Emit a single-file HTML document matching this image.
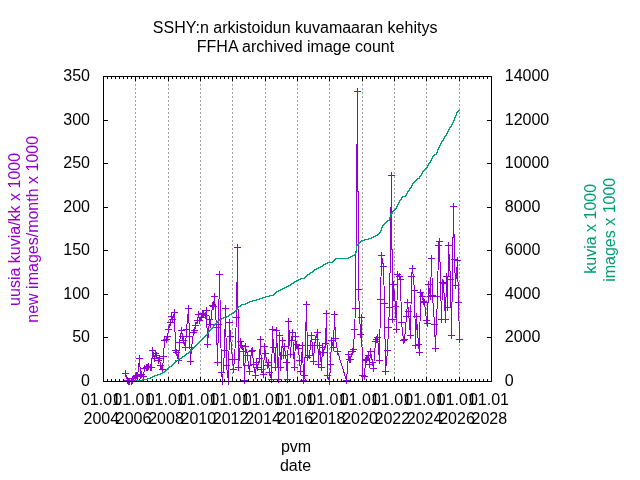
<!DOCTYPE html>
<html><head><meta charset="utf-8"><title>SSHY:n arkistoidun kuvamaaran kehitys</title>
<style>html,body{margin:0;padding:0;background:#fff}svg{display:block}text{font-family:"Liberation Sans",Arial,sans-serif;font-size:16px;fill:#000}</style></head><body>
<svg width="640" height="480" viewBox="0 0 640 480">
<rect width="640" height="480" fill="#fff"/>
<g stroke="#a0a0a0" stroke-width="1" stroke-dasharray="2,2" shape-rendering="crispEdges">
<line x1="135.5" y1="76.0" x2="135.5" y2="381.5"/>
<line x1="168.5" y1="76.0" x2="168.5" y2="381.5"/>
<line x1="200.5" y1="76.0" x2="200.5" y2="381.5"/>
<line x1="232.5" y1="76.0" x2="232.5" y2="381.5"/>
<line x1="265.5" y1="76.0" x2="265.5" y2="381.5"/>
<line x1="297.5" y1="76.0" x2="297.5" y2="381.5"/>
<line x1="329.5" y1="76.0" x2="329.5" y2="381.5"/>
<line x1="362.5" y1="76.0" x2="362.5" y2="381.5"/>
<line x1="394.5" y1="76.0" x2="394.5" y2="381.5"/>
<line x1="426.5" y1="76.0" x2="426.5" y2="381.5"/>
<line x1="459.5" y1="76.0" x2="459.5" y2="381.5"/>
</g>
<g stroke="#000" stroke-width="1" shape-rendering="crispEdges">
<line x1="103.5" y1="382.0" x2="103.5" y2="377.0"/><line x1="103.5" y1="76.0" x2="103.5" y2="81.0"/>
<line x1="107.5" y1="382.0" x2="107.5" y2="379.0"/><line x1="107.5" y1="76.0" x2="107.5" y2="79.0"/>
<line x1="111.5" y1="382.0" x2="111.5" y2="379.0"/><line x1="111.5" y1="76.0" x2="111.5" y2="79.0"/>
<line x1="115.5" y1="382.0" x2="115.5" y2="379.0"/><line x1="115.5" y1="76.0" x2="115.5" y2="79.0"/>
<line x1="119.5" y1="382.0" x2="119.5" y2="379.0"/><line x1="119.5" y1="76.0" x2="119.5" y2="79.0"/>
<line x1="123.5" y1="382.0" x2="123.5" y2="379.0"/><line x1="123.5" y1="76.0" x2="123.5" y2="79.0"/>
<line x1="127.5" y1="382.0" x2="127.5" y2="379.0"/><line x1="127.5" y1="76.0" x2="127.5" y2="79.0"/>
<line x1="131.5" y1="382.0" x2="131.5" y2="379.0"/><line x1="131.5" y1="76.0" x2="131.5" y2="79.0"/>
<line x1="135.5" y1="382.0" x2="135.5" y2="377.0"/><line x1="135.5" y1="76.0" x2="135.5" y2="81.0"/>
<line x1="139.5" y1="382.0" x2="139.5" y2="379.0"/><line x1="139.5" y1="76.0" x2="139.5" y2="79.0"/>
<line x1="143.5" y1="382.0" x2="143.5" y2="379.0"/><line x1="143.5" y1="76.0" x2="143.5" y2="79.0"/>
<line x1="147.5" y1="382.0" x2="147.5" y2="379.0"/><line x1="147.5" y1="76.0" x2="147.5" y2="79.0"/>
<line x1="152.5" y1="382.0" x2="152.5" y2="379.0"/><line x1="152.5" y1="76.0" x2="152.5" y2="79.0"/>
<line x1="156.5" y1="382.0" x2="156.5" y2="379.0"/><line x1="156.5" y1="76.0" x2="156.5" y2="79.0"/>
<line x1="160.5" y1="382.0" x2="160.5" y2="379.0"/><line x1="160.5" y1="76.0" x2="160.5" y2="79.0"/>
<line x1="164.5" y1="382.0" x2="164.5" y2="379.0"/><line x1="164.5" y1="76.0" x2="164.5" y2="79.0"/>
<line x1="168.5" y1="382.0" x2="168.5" y2="377.0"/><line x1="168.5" y1="76.0" x2="168.5" y2="81.0"/>
<line x1="172.5" y1="382.0" x2="172.5" y2="379.0"/><line x1="172.5" y1="76.0" x2="172.5" y2="79.0"/>
<line x1="176.5" y1="382.0" x2="176.5" y2="379.0"/><line x1="176.5" y1="76.0" x2="176.5" y2="79.0"/>
<line x1="180.5" y1="382.0" x2="180.5" y2="379.0"/><line x1="180.5" y1="76.0" x2="180.5" y2="79.0"/>
<line x1="184.5" y1="382.0" x2="184.5" y2="379.0"/><line x1="184.5" y1="76.0" x2="184.5" y2="79.0"/>
<line x1="188.5" y1="382.0" x2="188.5" y2="379.0"/><line x1="188.5" y1="76.0" x2="188.5" y2="79.0"/>
<line x1="192.5" y1="382.0" x2="192.5" y2="379.0"/><line x1="192.5" y1="76.0" x2="192.5" y2="79.0"/>
<line x1="196.5" y1="382.0" x2="196.5" y2="379.0"/><line x1="196.5" y1="76.0" x2="196.5" y2="79.0"/>
<line x1="200.5" y1="382.0" x2="200.5" y2="377.0"/><line x1="200.5" y1="76.0" x2="200.5" y2="81.0"/>
<line x1="204.5" y1="382.0" x2="204.5" y2="379.0"/><line x1="204.5" y1="76.0" x2="204.5" y2="79.0"/>
<line x1="208.5" y1="382.0" x2="208.5" y2="379.0"/><line x1="208.5" y1="76.0" x2="208.5" y2="79.0"/>
<line x1="212.5" y1="382.0" x2="212.5" y2="379.0"/><line x1="212.5" y1="76.0" x2="212.5" y2="79.0"/>
<line x1="216.5" y1="382.0" x2="216.5" y2="379.0"/><line x1="216.5" y1="76.0" x2="216.5" y2="79.0"/>
<line x1="220.5" y1="382.0" x2="220.5" y2="379.0"/><line x1="220.5" y1="76.0" x2="220.5" y2="79.0"/>
<line x1="224.5" y1="382.0" x2="224.5" y2="379.0"/><line x1="224.5" y1="76.0" x2="224.5" y2="79.0"/>
<line x1="228.5" y1="382.0" x2="228.5" y2="379.0"/><line x1="228.5" y1="76.0" x2="228.5" y2="79.0"/>
<line x1="232.5" y1="382.0" x2="232.5" y2="377.0"/><line x1="232.5" y1="76.0" x2="232.5" y2="81.0"/>
<line x1="236.5" y1="382.0" x2="236.5" y2="379.0"/><line x1="236.5" y1="76.0" x2="236.5" y2="79.0"/>
<line x1="240.5" y1="382.0" x2="240.5" y2="379.0"/><line x1="240.5" y1="76.0" x2="240.5" y2="79.0"/>
<line x1="244.5" y1="382.0" x2="244.5" y2="379.0"/><line x1="244.5" y1="76.0" x2="244.5" y2="79.0"/>
<line x1="248.5" y1="382.0" x2="248.5" y2="379.0"/><line x1="248.5" y1="76.0" x2="248.5" y2="79.0"/>
<line x1="253.5" y1="382.0" x2="253.5" y2="379.0"/><line x1="253.5" y1="76.0" x2="253.5" y2="79.0"/>
<line x1="257.5" y1="382.0" x2="257.5" y2="379.0"/><line x1="257.5" y1="76.0" x2="257.5" y2="79.0"/>
<line x1="261.5" y1="382.0" x2="261.5" y2="379.0"/><line x1="261.5" y1="76.0" x2="261.5" y2="79.0"/>
<line x1="265.5" y1="382.0" x2="265.5" y2="377.0"/><line x1="265.5" y1="76.0" x2="265.5" y2="81.0"/>
<line x1="269.5" y1="382.0" x2="269.5" y2="379.0"/><line x1="269.5" y1="76.0" x2="269.5" y2="79.0"/>
<line x1="273.5" y1="382.0" x2="273.5" y2="379.0"/><line x1="273.5" y1="76.0" x2="273.5" y2="79.0"/>
<line x1="277.5" y1="382.0" x2="277.5" y2="379.0"/><line x1="277.5" y1="76.0" x2="277.5" y2="79.0"/>
<line x1="281.5" y1="382.0" x2="281.5" y2="379.0"/><line x1="281.5" y1="76.0" x2="281.5" y2="79.0"/>
<line x1="285.5" y1="382.0" x2="285.5" y2="379.0"/><line x1="285.5" y1="76.0" x2="285.5" y2="79.0"/>
<line x1="289.5" y1="382.0" x2="289.5" y2="379.0"/><line x1="289.5" y1="76.0" x2="289.5" y2="79.0"/>
<line x1="293.5" y1="382.0" x2="293.5" y2="379.0"/><line x1="293.5" y1="76.0" x2="293.5" y2="79.0"/>
<line x1="297.5" y1="382.0" x2="297.5" y2="377.0"/><line x1="297.5" y1="76.0" x2="297.5" y2="81.0"/>
<line x1="301.5" y1="382.0" x2="301.5" y2="379.0"/><line x1="301.5" y1="76.0" x2="301.5" y2="79.0"/>
<line x1="305.5" y1="382.0" x2="305.5" y2="379.0"/><line x1="305.5" y1="76.0" x2="305.5" y2="79.0"/>
<line x1="309.5" y1="382.0" x2="309.5" y2="379.0"/><line x1="309.5" y1="76.0" x2="309.5" y2="79.0"/>
<line x1="313.5" y1="382.0" x2="313.5" y2="379.0"/><line x1="313.5" y1="76.0" x2="313.5" y2="79.0"/>
<line x1="317.5" y1="382.0" x2="317.5" y2="379.0"/><line x1="317.5" y1="76.0" x2="317.5" y2="79.0"/>
<line x1="321.5" y1="382.0" x2="321.5" y2="379.0"/><line x1="321.5" y1="76.0" x2="321.5" y2="79.0"/>
<line x1="325.5" y1="382.0" x2="325.5" y2="379.0"/><line x1="325.5" y1="76.0" x2="325.5" y2="79.0"/>
<line x1="329.5" y1="382.0" x2="329.5" y2="377.0"/><line x1="329.5" y1="76.0" x2="329.5" y2="81.0"/>
<line x1="333.5" y1="382.0" x2="333.5" y2="379.0"/><line x1="333.5" y1="76.0" x2="333.5" y2="79.0"/>
<line x1="337.5" y1="382.0" x2="337.5" y2="379.0"/><line x1="337.5" y1="76.0" x2="337.5" y2="79.0"/>
<line x1="341.5" y1="382.0" x2="341.5" y2="379.0"/><line x1="341.5" y1="76.0" x2="341.5" y2="79.0"/>
<line x1="346.5" y1="382.0" x2="346.5" y2="379.0"/><line x1="346.5" y1="76.0" x2="346.5" y2="79.0"/>
<line x1="350.5" y1="382.0" x2="350.5" y2="379.0"/><line x1="350.5" y1="76.0" x2="350.5" y2="79.0"/>
<line x1="354.5" y1="382.0" x2="354.5" y2="379.0"/><line x1="354.5" y1="76.0" x2="354.5" y2="79.0"/>
<line x1="358.5" y1="382.0" x2="358.5" y2="379.0"/><line x1="358.5" y1="76.0" x2="358.5" y2="79.0"/>
<line x1="362.5" y1="382.0" x2="362.5" y2="377.0"/><line x1="362.5" y1="76.0" x2="362.5" y2="81.0"/>
<line x1="366.5" y1="382.0" x2="366.5" y2="379.0"/><line x1="366.5" y1="76.0" x2="366.5" y2="79.0"/>
<line x1="370.5" y1="382.0" x2="370.5" y2="379.0"/><line x1="370.5" y1="76.0" x2="370.5" y2="79.0"/>
<line x1="374.5" y1="382.0" x2="374.5" y2="379.0"/><line x1="374.5" y1="76.0" x2="374.5" y2="79.0"/>
<line x1="378.5" y1="382.0" x2="378.5" y2="379.0"/><line x1="378.5" y1="76.0" x2="378.5" y2="79.0"/>
<line x1="382.5" y1="382.0" x2="382.5" y2="379.0"/><line x1="382.5" y1="76.0" x2="382.5" y2="79.0"/>
<line x1="386.5" y1="382.0" x2="386.5" y2="379.0"/><line x1="386.5" y1="76.0" x2="386.5" y2="79.0"/>
<line x1="390.5" y1="382.0" x2="390.5" y2="379.0"/><line x1="390.5" y1="76.0" x2="390.5" y2="79.0"/>
<line x1="394.5" y1="382.0" x2="394.5" y2="377.0"/><line x1="394.5" y1="76.0" x2="394.5" y2="81.0"/>
<line x1="398.5" y1="382.0" x2="398.5" y2="379.0"/><line x1="398.5" y1="76.0" x2="398.5" y2="79.0"/>
<line x1="402.5" y1="382.0" x2="402.5" y2="379.0"/><line x1="402.5" y1="76.0" x2="402.5" y2="79.0"/>
<line x1="406.5" y1="382.0" x2="406.5" y2="379.0"/><line x1="406.5" y1="76.0" x2="406.5" y2="79.0"/>
<line x1="410.5" y1="382.0" x2="410.5" y2="379.0"/><line x1="410.5" y1="76.0" x2="410.5" y2="79.0"/>
<line x1="414.5" y1="382.0" x2="414.5" y2="379.0"/><line x1="414.5" y1="76.0" x2="414.5" y2="79.0"/>
<line x1="418.5" y1="382.0" x2="418.5" y2="379.0"/><line x1="418.5" y1="76.0" x2="418.5" y2="79.0"/>
<line x1="422.5" y1="382.0" x2="422.5" y2="379.0"/><line x1="422.5" y1="76.0" x2="422.5" y2="79.0"/>
<line x1="426.5" y1="382.0" x2="426.5" y2="377.0"/><line x1="426.5" y1="76.0" x2="426.5" y2="81.0"/>
<line x1="430.5" y1="382.0" x2="430.5" y2="379.0"/><line x1="430.5" y1="76.0" x2="430.5" y2="79.0"/>
<line x1="434.5" y1="382.0" x2="434.5" y2="379.0"/><line x1="434.5" y1="76.0" x2="434.5" y2="79.0"/>
<line x1="438.5" y1="382.0" x2="438.5" y2="379.0"/><line x1="438.5" y1="76.0" x2="438.5" y2="79.0"/>
<line x1="442.5" y1="382.0" x2="442.5" y2="379.0"/><line x1="442.5" y1="76.0" x2="442.5" y2="79.0"/>
<line x1="447.5" y1="382.0" x2="447.5" y2="379.0"/><line x1="447.5" y1="76.0" x2="447.5" y2="79.0"/>
<line x1="451.5" y1="382.0" x2="451.5" y2="379.0"/><line x1="451.5" y1="76.0" x2="451.5" y2="79.0"/>
<line x1="455.5" y1="382.0" x2="455.5" y2="379.0"/><line x1="455.5" y1="76.0" x2="455.5" y2="79.0"/>
<line x1="459.5" y1="382.0" x2="459.5" y2="377.0"/><line x1="459.5" y1="76.0" x2="459.5" y2="81.0"/>
<line x1="463.5" y1="382.0" x2="463.5" y2="379.0"/><line x1="463.5" y1="76.0" x2="463.5" y2="79.0"/>
<line x1="467.5" y1="382.0" x2="467.5" y2="379.0"/><line x1="467.5" y1="76.0" x2="467.5" y2="79.0"/>
<line x1="471.5" y1="382.0" x2="471.5" y2="379.0"/><line x1="471.5" y1="76.0" x2="471.5" y2="79.0"/>
<line x1="475.5" y1="382.0" x2="475.5" y2="379.0"/><line x1="475.5" y1="76.0" x2="475.5" y2="79.0"/>
<line x1="479.5" y1="382.0" x2="479.5" y2="379.0"/><line x1="479.5" y1="76.0" x2="479.5" y2="79.0"/>
<line x1="483.5" y1="382.0" x2="483.5" y2="379.0"/><line x1="483.5" y1="76.0" x2="483.5" y2="79.0"/>
<line x1="487.5" y1="382.0" x2="487.5" y2="379.0"/><line x1="487.5" y1="76.0" x2="487.5" y2="79.0"/>
<line x1="491.5" y1="382.0" x2="491.5" y2="377.0"/><line x1="491.5" y1="76.0" x2="491.5" y2="81.0"/>
<line x1="103.0" y1="381.5" x2="108.0" y2="381.5"/>
<line x1="492.0" y1="381.5" x2="487.0" y2="381.5"/>
<line x1="103.0" y1="337.5" x2="108.0" y2="337.5"/>
<line x1="492.0" y1="337.5" x2="487.0" y2="337.5"/>
<line x1="103.0" y1="294.5" x2="108.0" y2="294.5"/>
<line x1="492.0" y1="294.5" x2="487.0" y2="294.5"/>
<line x1="103.0" y1="250.5" x2="108.0" y2="250.5"/>
<line x1="492.0" y1="250.5" x2="487.0" y2="250.5"/>
<line x1="103.0" y1="207.5" x2="108.0" y2="207.5"/>
<line x1="492.0" y1="207.5" x2="487.0" y2="207.5"/>
<line x1="103.0" y1="163.5" x2="108.0" y2="163.5"/>
<line x1="492.0" y1="163.5" x2="487.0" y2="163.5"/>
<line x1="103.0" y1="120.5" x2="108.0" y2="120.5"/>
<line x1="492.0" y1="120.5" x2="487.0" y2="120.5"/>
<line x1="103.0" y1="76.5" x2="108.0" y2="76.5"/>
<line x1="492.0" y1="76.5" x2="487.0" y2="76.5"/>
</g>
<polyline fill="none" stroke="#9400d3" stroke-width="1" shape-rendering="crispEdges" points="125.5,373.5 127.5,380.5 128.5,381.5 129.5,381.5 131.5,381.5 132.5,380.5 133.5,378.5 135.5,376.5 136.5,375.5 137.5,376.5 139.5,358.5 140.5,375.5 141.5,374.5 143.5,376.5 144.5,368.5 146.5,367.5 147.5,367.5 148.5,366.5 150.5,367.5 151.5,367.5 152.5,350.5 154.5,358.5 155.5,353.5 156.5,355.5 158.5,360.5 159.5,358.5 160.5,365.5 162.5,369.5 163.5,356.5 164.5,340.5 166.5,339.5 167.5,336.5 168.5,329.5 170.5,322.5 171.5,316.5 172.5,319.5 174.5,312.5 175.5,350.5 176.5,352.5 178.5,360.5 179.5,342.5 181.5,330.5 182.5,336.5 183.5,340.5 185.5,347.5 186.5,329.5 188.5,308.5 189.5,336.5 190.5,361.5 191.5,347.5 193.5,332.5 194.5,330.5 195.5,325.5 197.5,320.5 198.5,314.5 199.5,320.5 201.5,317.5 202.5,313.5 203.5,314.5 205.5,315.5 206.5,310.5 207.5,344.5 209.5,319.5 210.5,324.5 212.5,305.5 213.5,306.5 214.5,296.5 216.5,327.5 217.5,362.5 218.5,324.5 219.5,274.5 221.5,372.5 222.5,381.5 224.5,350.5 225.5,308.5 226.5,365.5 228.5,381.5 229.5,322.5 230.5,336.5 232.5,359.5 233.5,369.5 234.5,359.5 236.5,317.5 237.5,247.5 238.5,367.5 240.5,341.5 241.5,345.5 243.5,351.5 244.5,380.5 245.5,346.5 247.5,355.5 248.5,365.5 249.5,371.5 251.5,351.5 252.5,350.5 253.5,364.5 255.5,375.5 256.5,362.5 257.5,367.5 259.5,358.5 260.5,339.5 261.5,369.5 263.5,374.5 264.5,346.5 265.5,353.5 267.5,365.5 268.5,362.5 269.5,372.5 271.5,379.5 272.5,329.5 273.5,347.5 275.5,367.5 276.5,330.5 278.5,379.5 279.5,335.5 280.5,367.5 282.5,340.5 283.5,355.5 284.5,346.5 286.5,362.5 287.5,379.5 288.5,321.5 290.5,354.5 291.5,340.5 292.5,332.5 294.5,367.5 295.5,336.5 296.5,344.5 298.5,348.5 299.5,360.5 300.5,371.5 302.5,345.5 303.5,380.5 304.5,375.5 306.5,304.5 307.5,357.5 309.5,355.5 310.5,345.5 311.5,335.5 313.5,361.5 314.5,345.5 315.5,339.5 317.5,332.5 318.5,364.5 319.5,345.5 321.5,367.5 322.5,347.5 323.5,352.5 325.5,343.5 326.5,313.5 327.5,375.5 329.5,381.5 330.5,364.5 331.5,340.5 333.5,347.5 334.5,314.5 335.5,338.5 337.5,351.5 346.5,380.5 348.5,354.5 349.5,359.5 350.5,359.5 352.5,351.5 353.5,349.5 354.5,329.5 355.5,308.5 357.5,91.5 358.5,289.5 360.5,334.5 361.5,317.5 362.5,375.5 364.5,376.5 365.5,360.5 366.5,359.5 368.5,355.5 369.5,364.5 370.5,351.5 372.5,362.5 373.5,368.5 375.5,341.5 376.5,339.5 377.5,337.5 379.5,360.5 380.5,299.5 381.5,255.5 383.5,266.5 384.5,303.5 385.5,371.5 387.5,350.5 388.5,327.5 389.5,307.5 391.5,175.5 392.5,319.5 393.5,284.5 395.5,306.5 396.5,329.5 397.5,274.5 399.5,276.5 400.5,279.5 401.5,322.5 403.5,340.5 404.5,339.5 406.5,316.5 407.5,302.5 408.5,311.5 410.5,335.5 411.5,276.5 412.5,268.5 414.5,290.5 415.5,345.5 416.5,316.5 418.5,344.5 419.5,352.5 420.5,292.5 422.5,296.5 423.5,301.5 424.5,302.5 426.5,320.5 427.5,323.5 428.5,284.5 430.5,296.5 431.5,258.5 432.5,295.5 434.5,324.5 435.5,348.5 437.5,296.5 438.5,245.5 439.5,241.5 441.5,319.5 442.5,282.5 443.5,283.5 445.5,319.5 446.5,276.5 447.5,307.5 448.5,245.5 450.5,279.5 451.5,335.5 453.5,206.5 454.5,259.5 455.5,285.5 457.5,260.5 458.5,302.5 459.5,339.5"/>
<path fill="none" stroke="#9400d3" stroke-width="1" shape-rendering="crispEdges" d="M122.0,373.5h7M125.5,370.0v7M124.0,380.5h7M127.5,377.0v7M125.0,381.5h7M128.5,378.0v7M126.0,381.5h7M129.5,378.0v7M128.0,381.5h7M131.5,378.0v7M129.0,380.5h7M132.5,377.0v7M130.0,378.5h7M133.5,375.0v7M132.0,376.5h7M135.5,373.0v7M133.0,375.5h7M136.5,372.0v7M134.0,376.5h7M137.5,373.0v7M136.0,358.5h7M139.5,355.0v7M137.0,375.5h7M140.5,372.0v7M138.0,374.5h7M141.5,371.0v7M140.0,376.5h7M143.5,373.0v7M141.0,368.5h7M144.5,365.0v7M143.0,367.5h7M146.5,364.0v7M144.0,367.5h7M147.5,364.0v7M145.0,366.5h7M148.5,363.0v7M147.0,367.5h7M150.5,364.0v7M148.0,367.5h7M151.5,364.0v7M149.0,350.5h7M152.5,347.0v7M151.0,358.5h7M154.5,355.0v7M152.0,353.5h7M155.5,350.0v7M153.0,355.5h7M156.5,352.0v7M155.0,360.5h7M158.5,357.0v7M156.0,358.5h7M159.5,355.0v7M157.0,365.5h7M160.5,362.0v7M159.0,369.5h7M162.5,366.0v7M160.0,356.5h7M163.5,353.0v7M161.0,340.5h7M164.5,337.0v7M163.0,339.5h7M166.5,336.0v7M164.0,336.5h7M167.5,333.0v7M165.0,329.5h7M168.5,326.0v7M167.0,322.5h7M170.5,319.0v7M168.0,316.5h7M171.5,313.0v7M169.0,319.5h7M172.5,316.0v7M171.0,312.5h7M174.5,309.0v7M172.0,350.5h7M175.5,347.0v7M173.0,352.5h7M176.5,349.0v7M175.0,360.5h7M178.5,357.0v7M176.0,342.5h7M179.5,339.0v7M178.0,330.5h7M181.5,327.0v7M179.0,336.5h7M182.5,333.0v7M180.0,340.5h7M183.5,337.0v7M182.0,347.5h7M185.5,344.0v7M183.0,329.5h7M186.5,326.0v7M185.0,308.5h7M188.5,305.0v7M186.0,336.5h7M189.5,333.0v7M187.0,361.5h7M190.5,358.0v7M188.0,347.5h7M191.5,344.0v7M190.0,332.5h7M193.5,329.0v7M191.0,330.5h7M194.5,327.0v7M192.0,325.5h7M195.5,322.0v7M194.0,320.5h7M197.5,317.0v7M195.0,314.5h7M198.5,311.0v7M196.0,320.5h7M199.5,317.0v7M198.0,317.5h7M201.5,314.0v7M199.0,313.5h7M202.5,310.0v7M200.0,314.5h7M203.5,311.0v7M202.0,315.5h7M205.5,312.0v7M203.0,310.5h7M206.5,307.0v7M204.0,344.5h7M207.5,341.0v7M206.0,319.5h7M209.5,316.0v7M207.0,324.5h7M210.5,321.0v7M209.0,305.5h7M212.5,302.0v7M210.0,306.5h7M213.5,303.0v7M211.0,296.5h7M214.5,293.0v7M213.0,327.5h7M216.5,324.0v7M214.0,362.5h7M217.5,359.0v7M215.0,324.5h7M218.5,321.0v7M216.0,274.5h7M219.5,271.0v7M218.0,372.5h7M221.5,369.0v7M219.0,381.5h7M222.5,378.0v7M221.0,350.5h7M224.5,347.0v7M222.0,308.5h7M225.5,305.0v7M223.0,365.5h7M226.5,362.0v7M225.0,381.5h7M228.5,378.0v7M226.0,322.5h7M229.5,319.0v7M227.0,336.5h7M230.5,333.0v7M229.0,359.5h7M232.5,356.0v7M230.0,369.5h7M233.5,366.0v7M231.0,359.5h7M234.5,356.0v7M233.0,317.5h7M236.5,314.0v7M234.0,247.5h7M237.5,244.0v7M235.0,367.5h7M238.5,364.0v7M237.0,341.5h7M240.5,338.0v7M238.0,345.5h7M241.5,342.0v7M240.0,351.5h7M243.5,348.0v7M241.0,380.5h7M244.5,377.0v7M242.0,346.5h7M245.5,343.0v7M244.0,355.5h7M247.5,352.0v7M245.0,365.5h7M248.5,362.0v7M246.0,371.5h7M249.5,368.0v7M248.0,351.5h7M251.5,348.0v7M249.0,350.5h7M252.5,347.0v7M250.0,364.5h7M253.5,361.0v7M252.0,375.5h7M255.5,372.0v7M253.0,362.5h7M256.5,359.0v7M254.0,367.5h7M257.5,364.0v7M256.0,358.5h7M259.5,355.0v7M257.0,339.5h7M260.5,336.0v7M258.0,369.5h7M261.5,366.0v7M260.0,374.5h7M263.5,371.0v7M261.0,346.5h7M264.5,343.0v7M262.0,353.5h7M265.5,350.0v7M264.0,365.5h7M267.5,362.0v7M265.0,362.5h7M268.5,359.0v7M266.0,372.5h7M269.5,369.0v7M268.0,379.5h7M271.5,376.0v7M269.0,329.5h7M272.5,326.0v7M270.0,347.5h7M273.5,344.0v7M272.0,367.5h7M275.5,364.0v7M273.0,330.5h7M276.5,327.0v7M275.0,379.5h7M278.5,376.0v7M276.0,335.5h7M279.5,332.0v7M277.0,367.5h7M280.5,364.0v7M279.0,340.5h7M282.5,337.0v7M280.0,355.5h7M283.5,352.0v7M281.0,346.5h7M284.5,343.0v7M283.0,362.5h7M286.5,359.0v7M284.0,379.5h7M287.5,376.0v7M285.0,321.5h7M288.5,318.0v7M287.0,354.5h7M290.5,351.0v7M288.0,340.5h7M291.5,337.0v7M289.0,332.5h7M292.5,329.0v7M291.0,367.5h7M294.5,364.0v7M292.0,336.5h7M295.5,333.0v7M293.0,344.5h7M296.5,341.0v7M295.0,348.5h7M298.5,345.0v7M296.0,360.5h7M299.5,357.0v7M297.0,371.5h7M300.5,368.0v7M299.0,345.5h7M302.5,342.0v7M300.0,380.5h7M303.5,377.0v7M301.0,375.5h7M304.5,372.0v7M303.0,304.5h7M306.5,301.0v7M304.0,357.5h7M307.5,354.0v7M306.0,355.5h7M309.5,352.0v7M307.0,345.5h7M310.5,342.0v7M308.0,335.5h7M311.5,332.0v7M310.0,361.5h7M313.5,358.0v7M311.0,345.5h7M314.5,342.0v7M312.0,339.5h7M315.5,336.0v7M314.0,332.5h7M317.5,329.0v7M315.0,364.5h7M318.5,361.0v7M316.0,345.5h7M319.5,342.0v7M318.0,367.5h7M321.5,364.0v7M319.0,347.5h7M322.5,344.0v7M320.0,352.5h7M323.5,349.0v7M322.0,343.5h7M325.5,340.0v7M323.0,313.5h7M326.5,310.0v7M324.0,375.5h7M327.5,372.0v7M326.0,381.5h7M329.5,378.0v7M327.0,364.5h7M330.5,361.0v7M328.0,340.5h7M331.5,337.0v7M330.0,347.5h7M333.5,344.0v7M331.0,314.5h7M334.5,311.0v7M332.0,338.5h7M335.5,335.0v7M334.0,351.5h7M337.5,348.0v7M343.0,380.5h7M346.5,377.0v7M345.0,354.5h7M348.5,351.0v7M346.0,359.5h7M349.5,356.0v7M347.0,359.5h7M350.5,356.0v7M349.0,351.5h7M352.5,348.0v7M350.0,349.5h7M353.5,346.0v7M351.0,329.5h7M354.5,326.0v7M352.0,308.5h7M355.5,305.0v7M354.0,91.5h7M357.5,88.0v7M355.0,289.5h7M358.5,286.0v7M357.0,334.5h7M360.5,331.0v7M358.0,317.5h7M361.5,314.0v7M359.0,375.5h7M362.5,372.0v7M361.0,376.5h7M364.5,373.0v7M362.0,360.5h7M365.5,357.0v7M363.0,359.5h7M366.5,356.0v7M365.0,355.5h7M368.5,352.0v7M366.0,364.5h7M369.5,361.0v7M367.0,351.5h7M370.5,348.0v7M369.0,362.5h7M372.5,359.0v7M370.0,368.5h7M373.5,365.0v7M372.0,341.5h7M375.5,338.0v7M373.0,339.5h7M376.5,336.0v7M374.0,337.5h7M377.5,334.0v7M376.0,360.5h7M379.5,357.0v7M377.0,299.5h7M380.5,296.0v7M378.0,255.5h7M381.5,252.0v7M380.0,266.5h7M383.5,263.0v7M381.0,303.5h7M384.5,300.0v7M382.0,371.5h7M385.5,368.0v7M384.0,350.5h7M387.5,347.0v7M385.0,327.5h7M388.5,324.0v7M386.0,307.5h7M389.5,304.0v7M388.0,175.5h7M391.5,172.0v7M389.0,319.5h7M392.5,316.0v7M390.0,284.5h7M393.5,281.0v7M392.0,306.5h7M395.5,303.0v7M393.0,329.5h7M396.5,326.0v7M394.0,274.5h7M397.5,271.0v7M396.0,276.5h7M399.5,273.0v7M397.0,279.5h7M400.5,276.0v7M398.0,322.5h7M401.5,319.0v7M400.0,340.5h7M403.5,337.0v7M401.0,339.5h7M404.5,336.0v7M403.0,316.5h7M406.5,313.0v7M404.0,302.5h7M407.5,299.0v7M405.0,311.5h7M408.5,308.0v7M407.0,335.5h7M410.5,332.0v7M408.0,276.5h7M411.5,273.0v7M409.0,268.5h7M412.5,265.0v7M411.0,290.5h7M414.5,287.0v7M412.0,345.5h7M415.5,342.0v7M413.0,316.5h7M416.5,313.0v7M415.0,344.5h7M418.5,341.0v7M416.0,352.5h7M419.5,349.0v7M417.0,292.5h7M420.5,289.0v7M419.0,296.5h7M422.5,293.0v7M420.0,301.5h7M423.5,298.0v7M421.0,302.5h7M424.5,299.0v7M423.0,320.5h7M426.5,317.0v7M424.0,323.5h7M427.5,320.0v7M425.0,284.5h7M428.5,281.0v7M427.0,296.5h7M430.5,293.0v7M428.0,258.5h7M431.5,255.0v7M429.0,295.5h7M432.5,292.0v7M431.0,324.5h7M434.5,321.0v7M432.0,348.5h7M435.5,345.0v7M434.0,296.5h7M437.5,293.0v7M435.0,245.5h7M438.5,242.0v7M436.0,241.5h7M439.5,238.0v7M438.0,319.5h7M441.5,316.0v7M439.0,282.5h7M442.5,279.0v7M440.0,283.5h7M443.5,280.0v7M442.0,319.5h7M445.5,316.0v7M443.0,276.5h7M446.5,273.0v7M444.0,307.5h7M447.5,304.0v7M445.0,245.5h7M448.5,242.0v7M447.0,279.5h7M450.5,276.0v7M448.0,335.5h7M451.5,332.0v7M450.0,206.5h7M453.5,203.0v7M451.0,259.5h7M454.5,256.0v7M452.0,285.5h7M455.5,282.0v7M454.0,260.5h7M457.5,257.0v7M455.0,302.5h7M458.5,299.0v7M456.0,339.5h7M459.5,336.0v7"/>
<path fill="none" stroke="#009e73" stroke-width="1" shape-rendering="crispEdges" stroke-linecap="square" d="M133.5,381.5H134.5H135.5V380.5H136.5H137.5H138.5H139.5H140.5H141.5H142.5V379.5H143.5H144.5H145.5H146.5H147.5V378.5H148.5H149.5H150.5V377.5H151.5H152.5V376.5H153.5H154.5V375.5H155.5H156.5H157.5V374.5H158.5H159.5H160.5V373.5H161.5H162.5V372.5H163.5H164.5V371.5H165.5V370.5H166.5V369.5H167.5V368.5H168.5V367.5H169.5V366.5H170.5H171.5V365.5H172.5V364.5H173.5V363.5H174.5V362.5H175.5V361.5H176.5V360.5H177.5H178.5V359.5H179.5V358.5H180.5H181.5V357.5H182.5V356.5H183.5H184.5V355.5H185.5V354.5H186.5V353.5H187.5H188.5V352.5H189.5V351.5H190.5V350.5H191.5V349.5H192.5V348.5H193.5V347.5H194.5V346.5H195.5V345.5H196.5V344.5H197.5V343.5H198.5V342.5H199.5V341.5H200.5V340.5H201.5V339.5H202.5V338.5H203.5V337.5H204.5V336.5H205.5V335.5H206.5V334.5H207.5V333.5H208.5V331.5H209.5V330.5H210.5V329.5H211.5V328.5H212.5V327.5H213.5V325.5H214.5V324.5H215.5V323.5H216.5V322.5H217.5V321.5H218.5V320.5H219.5V319.5H220.5H221.5V318.5H222.5H223.5V317.5H224.5H225.5H226.5V316.5H227.5H228.5V315.5H229.5V314.5H230.5H231.5V313.5H232.5H233.5V312.5H234.5V311.5H235.5V310.5H236.5V309.5H237.5V307.5H238.5V306.5H239.5H240.5V305.5H241.5V304.5H242.5H243.5H244.5H245.5V303.5H246.5H247.5V302.5H248.5H249.5V301.5H250.5H251.5H252.5V300.5H253.5H254.5H255.5H256.5V299.5H257.5H258.5H259.5V298.5H260.5H261.5H262.5V297.5H263.5H264.5H265.5V296.5H266.5H267.5H268.5H269.5V295.5H270.5H271.5H272.5H273.5V294.5H274.5V293.5H275.5V292.5H276.5V291.5H277.5H278.5V290.5H279.5H280.5V289.5H281.5H282.5V288.5H283.5H284.5V287.5H285.5H286.5V286.5H287.5H288.5V285.5H289.5H290.5V284.5H291.5V283.5H292.5H293.5V282.5H294.5V281.5H295.5H296.5V280.5H297.5H298.5V279.5H299.5H300.5V278.5H301.5H302.5H303.5H304.5V277.5H305.5V276.5H306.5V275.5H307.5V274.5H308.5H309.5V273.5H310.5V272.5H311.5H312.5V271.5H313.5V270.5H314.5V269.5H315.5H316.5V268.5H317.5H318.5V267.5H319.5H320.5V266.5H321.5H322.5V265.5H323.5V264.5H324.5H325.5V263.5H326.5H327.5V262.5H328.5H329.5H330.5H331.5H332.5V261.5H333.5V260.5H334.5V259.5H335.5V258.5H336.5H337.5H338.5H339.5H340.5H341.5H342.5H343.5H344.5H345.5H346.5H347.5H348.5V257.5H349.5H350.5V256.5H351.5H352.5V255.5H353.5H354.5V254.5H355.5V252.5H356.5V245.5H357.5V244.5H358.5V243.5H359.5V242.5H360.5V241.5H361.5V240.5H362.5H363.5H364.5V239.5H365.5H366.5H367.5H368.5V238.5H369.5H370.5H371.5V237.5H372.5H373.5V236.5H374.5H375.5V235.5H376.5H377.5V234.5H378.5V233.5H379.5V232.5H380.5V230.5H381.5V227.5H382.5V225.5H383.5V224.5H384.5V223.5H385.5V222.5H386.5V221.5H387.5V220.5H388.5H389.5V217.5H390.5V214.5H391.5V213.5H392.5V211.5H393.5V210.5H394.5V209.5H395.5V208.5H396.5V206.5H397.5V204.5H398.5V202.5H399.5V200.5H400.5V199.5H401.5V197.5H402.5V196.5H403.5H404.5H405.5V195.5H406.5V193.5H407.5V191.5H408.5V190.5H409.5V188.5H410.5V187.5H411.5V185.5H412.5V183.5H413.5V182.5H414.5V181.5H415.5V180.5H416.5V179.5H417.5V178.5H418.5H419.5V176.5H420.5V175.5H421.5V173.5H422.5V171.5H423.5V170.5H424.5V169.5H425.5V168.5H426.5V167.5H427.5V165.5H428.5V163.5H429.5V162.5H430.5V160.5H431.5V158.5H432.5V156.5H433.5V155.5H434.5V154.5H435.5H436.5V152.5H437.5V149.5H438.5V147.5H439.5V145.5H440.5V143.5H441.5V141.5H442.5V140.5H443.5V138.5H444.5V136.5H445.5V135.5H446.5V133.5H447.5V131.5H448.5V129.5H449.5V127.5H450.5V126.5H451.5V124.5H452.5V122.5H453.5V120.5H454.5V117.5H455.5V115.5H456.5V112.5H457.5V111.5H458.5V110.5H459.5"/>
<rect x="103.5" y="76.5" width="388.0" height="305.0" fill="none" stroke="#000" stroke-width="1" shape-rendering="crispEdges"/>
<text x="295.1" y="33" text-anchor="middle">SSHY:n arkistoidun kuvamaaran kehitys</text>
<text x="295.5" y="51.7" text-anchor="middle">FFHA archived image count</text>
<text x="90" y="386.0" text-anchor="end">0</text>
<text x="504.75" y="386.0">0</text>
<text x="90" y="342.4" text-anchor="end">50</text>
<text x="504.75" y="342.4">2000</text>
<text x="90" y="298.9" text-anchor="end">100</text>
<text x="504.75" y="298.9">4000</text>
<text x="90" y="255.3" text-anchor="end">150</text>
<text x="504.75" y="255.3">6000</text>
<text x="90" y="211.7" text-anchor="end">200</text>
<text x="504.75" y="211.7">8000</text>
<text x="90" y="168.1" text-anchor="end">250</text>
<text x="504.75" y="168.1">10000</text>
<text x="90" y="124.6" text-anchor="end">300</text>
<text x="504.75" y="124.6">12000</text>
<text x="90" y="81.0" text-anchor="end">350</text>
<text x="504.75" y="81.0">14000</text>
<text x="101.0" y="405.3" text-anchor="middle">01.01</text>
<text x="101.3" y="424.4" text-anchor="middle">2004</text>
<text x="133.3" y="405.3" text-anchor="middle">01.01</text>
<text x="133.6" y="424.4" text-anchor="middle">2006</text>
<text x="165.7" y="405.3" text-anchor="middle">01.01</text>
<text x="166.0" y="424.4" text-anchor="middle">2008</text>
<text x="198.0" y="405.3" text-anchor="middle">01.01</text>
<text x="198.3" y="424.4" text-anchor="middle">2010</text>
<text x="230.3" y="405.3" text-anchor="middle">01.01</text>
<text x="230.6" y="424.4" text-anchor="middle">2012</text>
<text x="262.7" y="405.3" text-anchor="middle">01.01</text>
<text x="263.0" y="424.4" text-anchor="middle">2014</text>
<text x="295.0" y="405.3" text-anchor="middle">01.01</text>
<text x="295.3" y="424.4" text-anchor="middle">2016</text>
<text x="327.3" y="405.3" text-anchor="middle">01.01</text>
<text x="327.6" y="424.4" text-anchor="middle">2018</text>
<text x="359.7" y="405.3" text-anchor="middle">01.01</text>
<text x="360.0" y="424.4" text-anchor="middle">2020</text>
<text x="392.0" y="405.3" text-anchor="middle">01.01</text>
<text x="392.3" y="424.4" text-anchor="middle">2022</text>
<text x="424.3" y="405.3" text-anchor="middle">01.01</text>
<text x="424.6" y="424.4" text-anchor="middle">2024</text>
<text x="456.7" y="405.3" text-anchor="middle">01.01</text>
<text x="457.0" y="424.4" text-anchor="middle">2026</text>
<text x="489.0" y="405.3" text-anchor="middle">01.01</text>
<text x="489.3" y="424.4" text-anchor="middle">2028</text>
<text x="296" y="451.5" text-anchor="middle">pvm</text>
<text x="295.5" y="471" text-anchor="middle">date</text>
<text transform="translate(19.75,229.4) rotate(-90)" text-anchor="middle" style="fill:#9400d3">uusia kuvia/kk x 1000</text>
<text transform="translate(38.25,229.3) rotate(-90)" text-anchor="middle" style="fill:#9400d3">new images/month x 1000</text>
<text transform="translate(595.9,228.8) rotate(-90)" text-anchor="middle" style="fill:#009e73">kuvia x 1000</text>
<text transform="translate(614.5,229.8) rotate(-90)" text-anchor="middle" style="fill:#009e73">images x 1000</text>
</svg></body></html>
